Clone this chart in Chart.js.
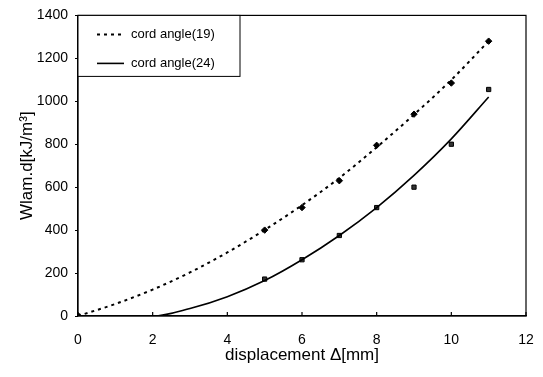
<!DOCTYPE html>
<html>
<head>
<meta charset="utf-8">
<script src="https://cdn.jsdelivr.net/npm/chart.js@4/dist/chart.umd.min.js"></script>
<style>
  html, body { margin: 0; padding: 0; background: #fff; }
  #wrap { width: 543px; height: 377px; }
</style>
</head>
<body>
<div id="wrap"><canvas id="chart"></canvas></div>
<script>
// valores
const xMeasured = [0, 5, 6, 7, 8, 9, 10, 11];
const angle19Measured = [0, 400, 505, 630, 795, 940, 1085, 1280];
const angle24Measured = [0, 172, 262, 375, 505, 600, 800, 1055];

const xTrend = [0, 1, 2, 3, 4, 5, 6, 7, 8, 9, 10, 11];
const angle19Trend = [0, 56, 123, 203, 296, 401, 516, 643, 786, 938, 1100, 1280];
const angle24Trend = [0, 0, 0, 35, 90, 165, 262, 375, 505, 655, 825, 1020];

const xTicks = [0, 2, 4, 6, 8, 10, 12];
const yTicks = [0, 200, 400, 600, 800, 1000, 1200, 1400];

const FONT = 'Liberation Sans, Arial, sans-serif';

function toPoints(xs, ys) {
    return xs.map((x, i) => ({ x: x, y: ys[i] }));
}

// marco del área de trazado + marcas del eje x hacia dentro
const framePlugin = {
    id: 'frame',
    afterDraw(chart) {
        const ctx = chart.ctx;
        const a = chart.chartArea;
        const xs = chart.scales.x;
        ctx.save();
        ctx.strokeStyle = '#000';
        ctx.lineWidth = 1.2;
        ctx.strokeRect(a.left, a.top, a.right - a.left, a.bottom - a.top);
        xTicks.forEach(v => {
            const px = xs.getPixelForValue(v);
            ctx.beginPath();
            ctx.moveTo(px, a.bottom);
            ctx.lineTo(px, a.bottom - 4);
            ctx.stroke();
        });
        ctx.restore();
    }
};

// leyenda con recuadro dentro del área
const boxLegend = {
    id: 'boxLegend',
    afterDraw(chart) {
        const ctx = chart.ctx;
        const a = chart.chartArea;
        const items = chart.data.datasets.filter(d => d.inLegend);
        ctx.save();
        ctx.fillStyle = '#fff';
        ctx.fillRect(a.left, a.top, 162, 61);
        ctx.strokeStyle = '#000';
        ctx.lineWidth = 1;
        ctx.strokeRect(a.left, a.top, 162, 61);
        ctx.font = '13px ' + FONT;
        ctx.textBaseline = 'middle';
        items.forEach((d, i) => {
            const y = a.top + 19 + i * 29;
            ctx.beginPath();
            ctx.setLineDash(d.borderDash || []);
            ctx.lineWidth = d.borderWidth;
            ctx.strokeStyle = d.borderColor;
            ctx.moveTo(a.left + 19, y);
            ctx.lineTo(a.left + 46, y);
            ctx.stroke();
            ctx.setLineDash([]);
            ctx.fillStyle = '#000';
            ctx.fillText(d.label, a.left + 53, y);
        });
        ctx.restore();
    }
};

new Chart(document.getElementById('chart'), {
    type: 'line',
    data: {
        datasets: [
            {
                label: 'cord angle(19)',
                inLegend: true,
                data: toPoints(xTrend, angle19Trend),
                borderColor: '#000',
                borderWidth: 2,
                borderDash: [3, 4],
                pointRadius: 0,
                cubicInterpolationMode: 'monotone',
                fill: false
            },
            {
                label: 'cord angle(24)',
                inLegend: true,
                data: toPoints(xTrend, angle24Trend),
                borderColor: '#000',
                borderWidth: 1.6,
                pointRadius: 0,
                cubicInterpolationMode: 'monotone',
                fill: false
            },
            {
                label: 'measured 19',
                data: toPoints(xMeasured, angle19Measured),
                showLine: false,
                pointStyle: 'rectRot',
                pointRadius: 3.2,
                pointBackgroundColor: '#000',
                pointBorderColor: '#000'
            },
            {
                label: 'measured 24',
                data: toPoints(xMeasured, angle24Measured),
                showLine: false,
                pointStyle: 'rect',
                pointRadius: 3,
                pointBackgroundColor: '#333',
                pointBorderColor: '#000'
            }
        ]
    },
    options: {
        responsive: true,
        maintainAspectRatio: false,
        animation: false,
        layout: { padding: { top: 13, right: 17, left: 0, bottom: 0 } },
        scales: {
            x: {
                type: 'linear',
                min: 0,
                max: 12,
                afterFit: s => { s.height = 61; },
                afterBuildTicks: s => { s.ticks = xTicks.map(v => ({ value: v })); },
                grid: { display: false },
                border: { display: true, color: '#000', width: 1.2 },
                ticks: { color: '#000', padding: 8, font: { family: FONT, size: 14 }, callback: v => String(v) },
                title: {
                    display: true,
                    text: 'displacement Δ[mm]',
                    color: '#000',
                    font: { family: FONT, size: 17 },
                    padding: { top: 0, bottom: 11 }
                }
            },
            y: {
                min: 0,
                max: 1400,
                afterFit: s => { s.width = 78; },
                afterBuildTicks: s => { s.ticks = yTicks.map(v => ({ value: v })); },
                grid: { drawOnChartArea: false, drawTicks: true, tickLength: 3, color: '#000' },
                border: { display: true, color: '#000', width: 1.2 },
                ticks: { color: '#000', padding: 7, font: { family: FONT, size: 14 }, callback: v => String(v) },
                title: {
                    display: true,
                    text: 'Wlam.d[kJ/m³]',
                    color: '#000',
                    font: { family: FONT, size: 17 },
                    padding: { top: 17, bottom: 0 }
                }
            }
        },
        plugins: {
            legend: { display: false },
            tooltip: { enabled: false }
        }
    },
    plugins: [framePlugin, boxLegend]
});
</script>
</body>
</html>
